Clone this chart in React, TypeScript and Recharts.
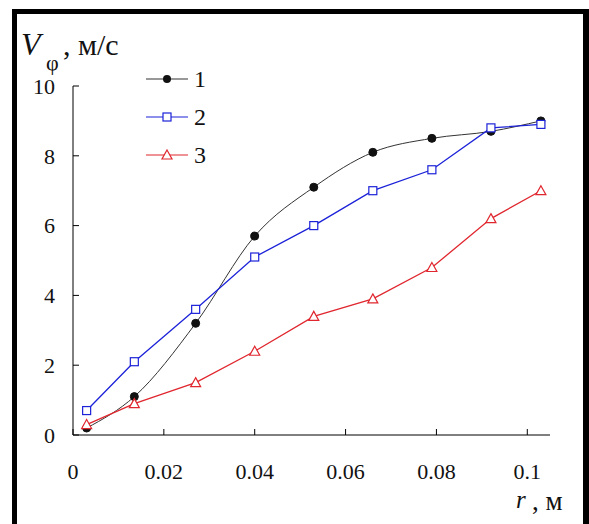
import { FC } from 'react';
import { LineChart, Line, XAxis, YAxis, Legend } from 'recharts';

// radius, m
const rValues = [0.003, 0.0135, 0.027, 0.04, 0.053, 0.066, 0.079, 0.092, 0.103];
// tangential velocity, m/s
const series1 = [0.2, 1.1, 3.2, 5.7, 7.1, 8.1, 8.5, 8.7, 9.0];
const series2 = [0.7, 2.1, 3.6, 5.1, 6.0, 7.0, 7.6, 8.8, 8.9];
const series3 = [0.3, 0.9, 1.5, 2.4, 3.4, 3.9, 4.8, 6.2, 7.0];
const seriesNames = ['1', '2', '3'];
const xTicks = [0, 0.02, 0.04, 0.06, 0.08, 0.1];
const yTicks = [0, 2, 4, 6, 8, 10];

const data = rValues.map((r, i) => ({ r, s1: series1[i], s2: series2[i], s3: series3[i] }));

const FONT = 'Liberation Serif, Times New Roman, Times, serif';
const BLACK = '#111';
const BLUE = '#1c22d8';
const RED = '#e0262e';

const Square = (props: any) => {
    const { cx, cy, key } = props;
    if (cx == null || cy == null) return null;
    return <rect key={key} x={cx - 4} y={cy - 4} width={8} height={8} fill="#fff" stroke={BLUE} strokeWidth={1.2} />;
};

const Triangle = (props: any) => {
    const { cx, cy, key } = props;
    if (cx == null || cy == null) return null;
    return (
        <path key={key} d={`M${cx},${cy - 5} L${cx + 5},${cy + 4} L${cx - 5},${cy + 4} Z`} fill="#fff" stroke={RED} strokeWidth={1.2} />
    );
};

const markerFor = (key: string) => {
    if (key === 's1') return <circle cx={21} cy={10} r={4} fill={BLACK} />;
    if (key === 's2') return <rect x={17} y={6} width={8} height={8} fill="#fff" stroke={BLUE} strokeWidth={1.2} />;
    return <path d="M21,5 L26,14 L16,14 Z" fill="#fff" stroke={RED} strokeWidth={1.2} />;
};

const LegendBox = (props: any) => {
    const { payload = [] } = props;
    return (
        <div style={{ fontFamily: FONT, fontSize: 24, color: '#111' }}>
            {payload.map((p: any) => (
                <div key={p.dataKey} style={{ display: 'flex', alignItems: 'center', height: 38 }}>
                    <svg width={42} height={20}>
                        <line x1={0} y1={10} x2={42} y2={10} stroke={p.color} strokeWidth={1.2} />
                        {markerFor(p.dataKey)}
                    </svg>
                    <span style={{ marginLeft: 6, lineHeight: '20px' }}>{p.value}</span>
                </div>
            ))}
        </div>
    );
};

const App: FC = () => {
    const tickStyle = { fontFamily: FONT, fontSize: 22, fill: '#111' };
    return (
        <div style={{ position: 'absolute', left: 0, top: 0, width: 589, height: 524, background: '#fff', overflow: 'hidden' }}>
            <div
                style={{
                    position: 'absolute',
                    left: 12,
                    top: 9,
                    width: 589 - 12 - 5 - 6,
                    height: 524,
                    borderLeft: '5px solid #000',
                    borderTop: '5px solid #000',
                    borderRight: '6px solid #000',
                }}
            />
            <div style={{ position: 'absolute', left: 0, top: 0 }}>
                <LineChart width={589} height={524} data={data} margin={{ top: 86, right: 39, left: 0, bottom: 49 }}>
                    <XAxis
                        dataKey="r"
                        type="number"
                        domain={[0, 0.105]}
                        ticks={xTicks}
                        tickFormatter={(v: number) => String(v)}
                        allowDataOverflow
                        height={40}
                        tickSize={-6}
                        tickMargin={34}
                        stroke="#000"
                        tick={tickStyle}
                    />
                    <YAxis
                        type="number"
                        domain={[0, 10]}
                        ticks={yTicks}
                        width={73}
                        tickSize={-6}
                        tickMargin={24}
                        stroke="#000"
                        tick={tickStyle}
                    />
                    <Legend
                        layout="vertical"
                        align="center"
                        verticalAlign="middle"
                        content={<LegendBox />}
                        wrapperStyle={{ position: 'absolute', left: 146, top: 60, width: 80 }}
                    />
                    <Line
                        dataKey="s1"
                        name={seriesNames[0]}
                        type="monotone"
                        stroke="#333"
                        strokeWidth={1}
                        dot={{ r: 4, fill: BLACK, stroke: BLACK }}
                        isAnimationActive={false}
                    />
                    <Line
                        dataKey="s2"
                        name={seriesNames[1]}
                        type="linear"
                        stroke={BLUE}
                        strokeWidth={1.3}
                        dot={Square}
                        isAnimationActive={false}
                    />
                    <Line
                        dataKey="s3"
                        name={seriesNames[2]}
                        type="linear"
                        stroke={RED}
                        strokeWidth={1.3}
                        dot={Triangle}
                        isAnimationActive={false}
                    />
                </LineChart>
            </div>
            <div style={{ position: 'absolute', left: 21, top: 26, fontFamily: FONT, fontSize: 32, color: '#111', whiteSpace: 'nowrap' }}>
                <i>V</i>
            </div>
            <div style={{ position: 'absolute', left: 46, top: 50, fontFamily: FONT, fontSize: 22, color: '#111' }}>φ</div>
            <div style={{ position: 'absolute', left: 63, top: 28, fontFamily: FONT, fontSize: 30, color: '#111', whiteSpace: 'nowrap' }}>
                , м/с
            </div>
            <div style={{ position: 'absolute', left: 516, top: 486, fontFamily: FONT, fontSize: 25, lineHeight: 'normal', color: '#111' }}>
                <i>r</i>
            </div>
            <div style={{ position: 'absolute', left: 532, top: 486, fontFamily: FONT, fontSize: 27, lineHeight: 'normal', color: '#111', whiteSpace: 'nowrap' }}>
                , м
            </div>
        </div>
    );
};

export default App;
